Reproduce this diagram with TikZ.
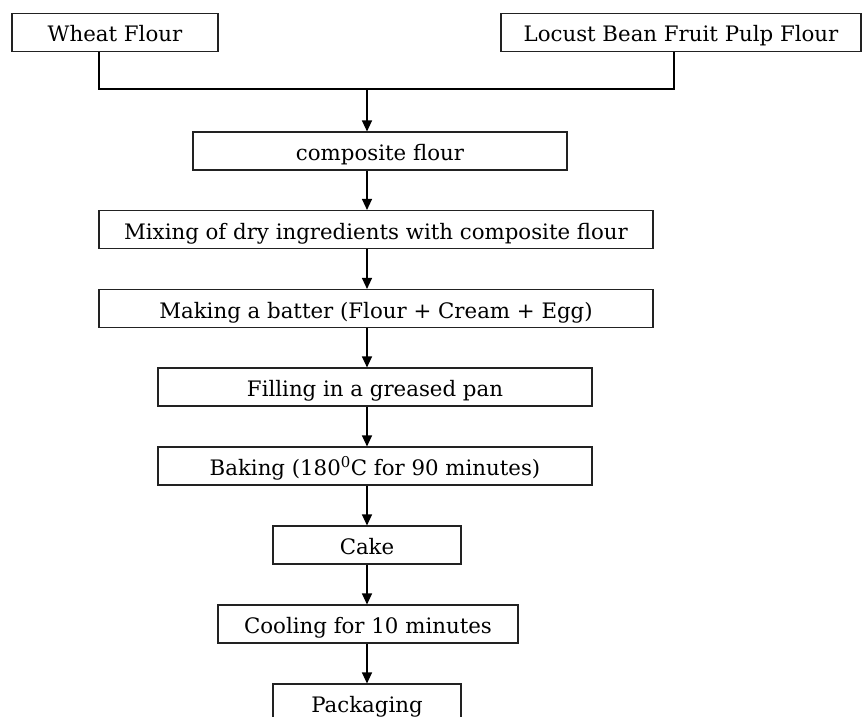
\documentclass[tikz,border=0pt]{standalone}
\usepackage{fontspec}
\setmainfont{DejaVu Serif}
\usepackage{xcolor}
\usetikzlibrary{arrows.meta, positioning}
\definecolor{boxline}{HTML}{222222}

\begin{document}
\begin{tikzpicture}[x=1pt, y=-1pt,
  procbox/.style={draw=boxline, line width=1.1pt, rectangle, inner sep=0pt,
    minimum height=38pt, text height=19pt, text depth=0pt,
    font=\fontsize{21.3}{21.3}\selectfont},
  flowline/.style={line width=1.2pt, black},
  flowarrow/.style={flowline, -{Triangle[length=11pt, width=10pt]}}]
  % Page frame
  \useasboundingbox (0,0) rectangle (862,717);
  \clip (0,0) rectangle (862,717);

  % Raw flours
  \node[procbox, minimum width=206pt] (wheat) at (115, 32.5) {Wheat Flour};
  \node[procbox, minimum width=360pt] (locust) at (681, 32.5) {Locust Bean Fruit Pulp Flour};

  % Process steps
  \node[procbox, minimum width=374pt] (comp) at (380, 151) {composite flour};
  \node[procbox, minimum width=554pt] (mix) at (376, 229.5) {Mixing of dry ingredients with composite flour};
  \node[procbox, minimum width=554pt] (batter) at (376, 308.5) {Making a batter (Flour + Cream + Egg)};
  \node[procbox, minimum width=434pt] (fill) at (375, 387) {Filling in a greased pan};
  \node[procbox, minimum width=434pt] (bake) at (375, 466) {Baking (180\textsuperscript{0}C for 90 minutes)};
  \node[procbox, minimum width=188pt] (cake) at (367, 545) {Cake};
  \node[procbox, minimum width=300pt] (cool) at (368, 624) {Cooling for 10 minutes};
  \node[procbox, minimum width=188pt] (pack) at (367, 703) {Packaging};

  % Joining the two flours
  \coordinate (wjoin) at (99, 89);
  \coordinate (ljoin) at (674, 89);
  \coordinate (axis) at (367, 89);
  \draw[flowline] (wheat.south -| wjoin) -- (wjoin) -- (ljoin) -- (locust.south -| ljoin);
  \draw[flowarrow] (axis) -- (comp.north -| axis);

  % Downward flow
  \foreach \from/\to in {comp/mix, mix/batter, batter/fill, fill/bake, bake/cake, cake/cool, cool/pack} {
    \draw[flowarrow] (\from.south -| axis) -- (\to.north -| axis);
  }
\end{tikzpicture}
\end{document}
